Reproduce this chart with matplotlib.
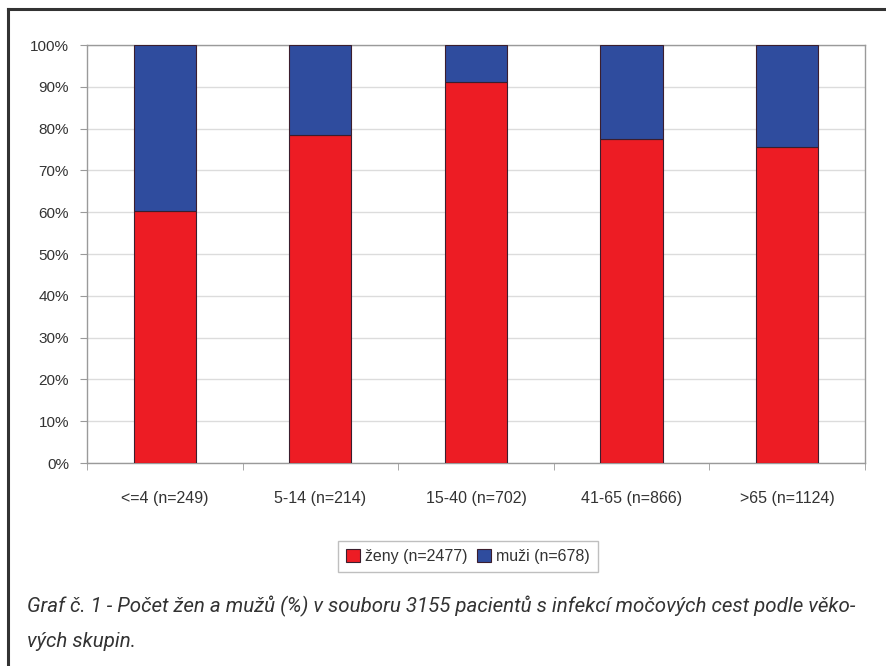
import numpy as np
import matplotlib.pyplot as plt
from matplotlib.lines import Line2D
from matplotlib.ticker import FixedLocator, PercentFormatter

########## DATA ##########
skupiny = ["<=4 (n=249)", "5-14 (n=214)", "15-40 (n=702)", "41-65 (n=866)", ">65 (n=1124)"]
zeny = [60.2, 78.5, 91.2, 77.4, 75.5]
muzi = [39.8, 21.5, 8.8, 22.6, 24.5]
legend_labels = ["ženy (n=2477)", "muži (n=678)"]
caption = ("Graf č. 1 - Počet žen a mužů (%) v souboru 3155 pacientů s infekcí močových cest podle věko-\n"
           "vých skupin.")
##########################

red = "#ED1C24"
blue = "#2F4C9E"
edge = "#3B1E2E"

fig = plt.figure(figsize=(8.86, 6.66), dpi=100)
ax = fig.add_axes([0.0982, 0.3048, 0.878, 0.6276])

x = np.arange(len(skupiny))
ax.bar(x, zeny, width=0.4, color=red, edgecolor=edge, linewidth=0.8, label=legend_labels[0], zorder=3)
ax.bar(x, muzi, width=0.4, bottom=zeny, color=blue, edgecolor=edge, linewidth=0.8, label=legend_labels[1], zorder=3)

ax.set_xlim(-0.5, len(skupiny) - 0.5)
ax.set_ylim(0, 100)
ax.set_yticks(np.arange(0, 101, 10))
ax.yaxis.set_major_formatter(PercentFormatter(decimals=0))
ax.set_xticks(x)
ax.set_xticklabels(skupiny)
ax.xaxis.set_minor_locator(FixedLocator(np.arange(-0.5, len(skupiny), 1.0)))

ax.grid(axis="y", color="#dcdcdc", linewidth=1.0, zorder=0)
for s in ax.spines.values():
    s.set_color("#9a9a9a")
    s.set_linewidth(1.0)

ax.tick_params(axis="y", labelsize=11, colors="#9a9a9a", labelcolor="#333333", length=5, pad=8)
ax.tick_params(axis="x", which="major", length=0, labelsize=11.5, labelcolor="#333333", pad=20)
ax.tick_params(axis="x", which="minor", length=5, color="#9a9a9a")
for lab in ax.get_yticklabels() + ax.get_xticklabels():
    lab.set_fontfamily("Liberation Sans")

leg = fig.legend(loc="center", bbox_to_anchor=(0.528, 0.165), ncol=2, frameon=True, fancybox=False,
                 prop={"family": "Liberation Sans", "size": 11.5}, handlelength=0.9, handleheight=0.9,
                 handletextpad=0.3, columnspacing=0.6, borderpad=0.5, edgecolor="#b0b0b0")
leg.get_frame().set_linewidth(1.0)
for t in leg.get_texts():
    t.set_color("#333333")

fig.text(0.030, 0.105, caption, ha="left", va="top", fontsize=14.8, style="italic",
         family="Roboto", color="#333333", linespacing=2.0)

# page frame (top and left)
fig.add_artist(Line2D([0.009, 1.0], [0.9865, 0.9865], transform=fig.transFigure, color="#333333", linewidth=2.2))
fig.add_artist(Line2D([0.009, 0.009], [0.0, 0.9865], transform=fig.transFigure, color="#333333", linewidth=2.2))

fig.savefig("out.png", dpi=100)
